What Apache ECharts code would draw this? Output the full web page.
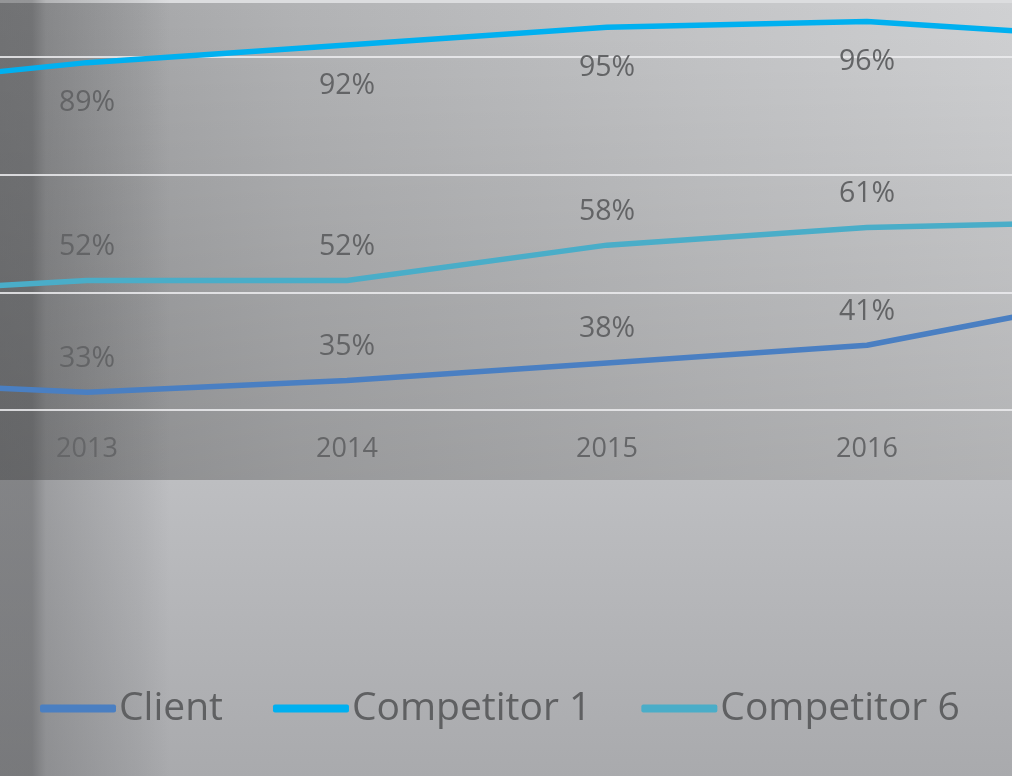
<!DOCTYPE html>
<html>
<head>
<meta charset="utf-8">
<script src="https://cdn.jsdelivr.net/npm/echarts@6/dist/echarts.min.js"></script>
<style>
html, body { margin: 0; padding: 0; }
#wrap {
    position: relative;
    width: 1012px;
    height: 776px;
    overflow: hidden;
    background:
        linear-gradient(to right, rgba(60,61,63,0.45) 0, rgba(60,61,63,0.45) 32px, rgba(60,61,63,0.25) 46px, rgba(60,61,63,0.08) 140px, rgba(60,61,63,0) 170px),
        linear-gradient(to bottom, #dcdddf 0, #dcdddf 3px, rgba(0,0,0,0) 3px) top left / 100% 480px no-repeat,
        linear-gradient(to bottom, rgba(0,0,0,0) 0, rgba(0,0,0,0.15) 480px) top left / 100% 480px no-repeat,
        linear-gradient(to right, #9d9ea0 0, #b2b3b5 300px, #c4c5c7 700px, #d0d1d3 1012px) top left / 100% 480px no-repeat,
        linear-gradient(to bottom, #bdbec1 0, #a9aaad 100%) bottom left / 100% 296px no-repeat;
}
/* 图表比窗口大, 两侧年份落在画面外 */
#myChart {
    position: absolute;
    left: -200px;
    top: -100px;
    width: 1412px;
    height: 876px;
}
</style>
</head>
<body>
<div id="wrap"><div id="myChart"></div></div>
<script>
// 数据 (2012 与 2017 在画面外, 只露出线段)
let years = ['2012', '2013', '2014', '2015', '2016', '2017']
let client = [35, 33, 35, 38, 41, 49.5]
let competitor1 = [84.5, 89, 92, 95, 96, 93.2]
let competitor6 = [49.5, 52, 52, 58, 61, 62]
let yTicks = { min: 30, max: 110, interval: 20 }

let myChart = echarts.init(document.getElementById('myChart'))

let labelStyle = {
    show: true,
    color: '#636466',
    fontFamily: 'Open Sans',
    fontSize: 28.5,
    formatter: (p) => Math.round(p.value) + '%'
}

function makeLine(name, data, color, pos, dist) {
    return {
        name: name,
        type: 'line',
        data: data,
        symbol: 'circle',
        symbolSize: 0.1,
        showSymbol: true,
        lineStyle: { color: color, width: 5.5 },
        itemStyle: { color: color },
        label: Object.assign({ position: pos, distance: dist }, labelStyle)
    }
}

let option = {
    backgroundColor: 'transparent',
    animation: false,
    grid: {
        left: 27,
        right: 85,
        top: 39,
        bottom: 366,
        containLabel: false,
        outerBoundsMode: 'none'
    },
    xAxis: {
        type: 'category',
        data: years,
        boundaryGap: false,
        axisLine: { show: false },
        axisTick: { show: false },
        axisLabel: {
            color: '#656668',
            fontFamily: 'Open Sans',
            fontSize: 27,
            margin: 26
        }
    },
    yAxis: {
        type: 'value',
        min: yTicks.min,
        max: yTicks.max,
        interval: yTicks.interval,
        axisLabel: { show: false },
        axisLine: { show: false },
        axisTick: { show: false },
        splitLine: {
            lineStyle: { color: 'rgba(236,236,238,0.85)', width: 2 }
        }
    },
    legend: {
        left: 235,
        top: 784,
        icon: 'roundRect',
        itemWidth: 76,
        itemHeight: 8,
        itemGap: 50,
        textStyle: {
            color: '#5f6062',
            fontFamily: 'Open Sans',
            fontSize: 39,
            padding: [0, 0, 0, -2]
        },
        data: ['Client', 'Competitor 1', 'Competitor 6']
    },
    series: [
        makeLine('Client', client, '#4a7fc2', 'top', 19),
        makeLine('Competitor 1', competitor1, '#00b0f0', 'bottom', 26),
        makeLine('Competitor 6', competitor6, '#4aadc8', 'top', 19)
    ]
}
myChart.setOption(option)

window.addEventListener('resize', () => {
    myChart.resize()
})
</script>
</body>
</html>
